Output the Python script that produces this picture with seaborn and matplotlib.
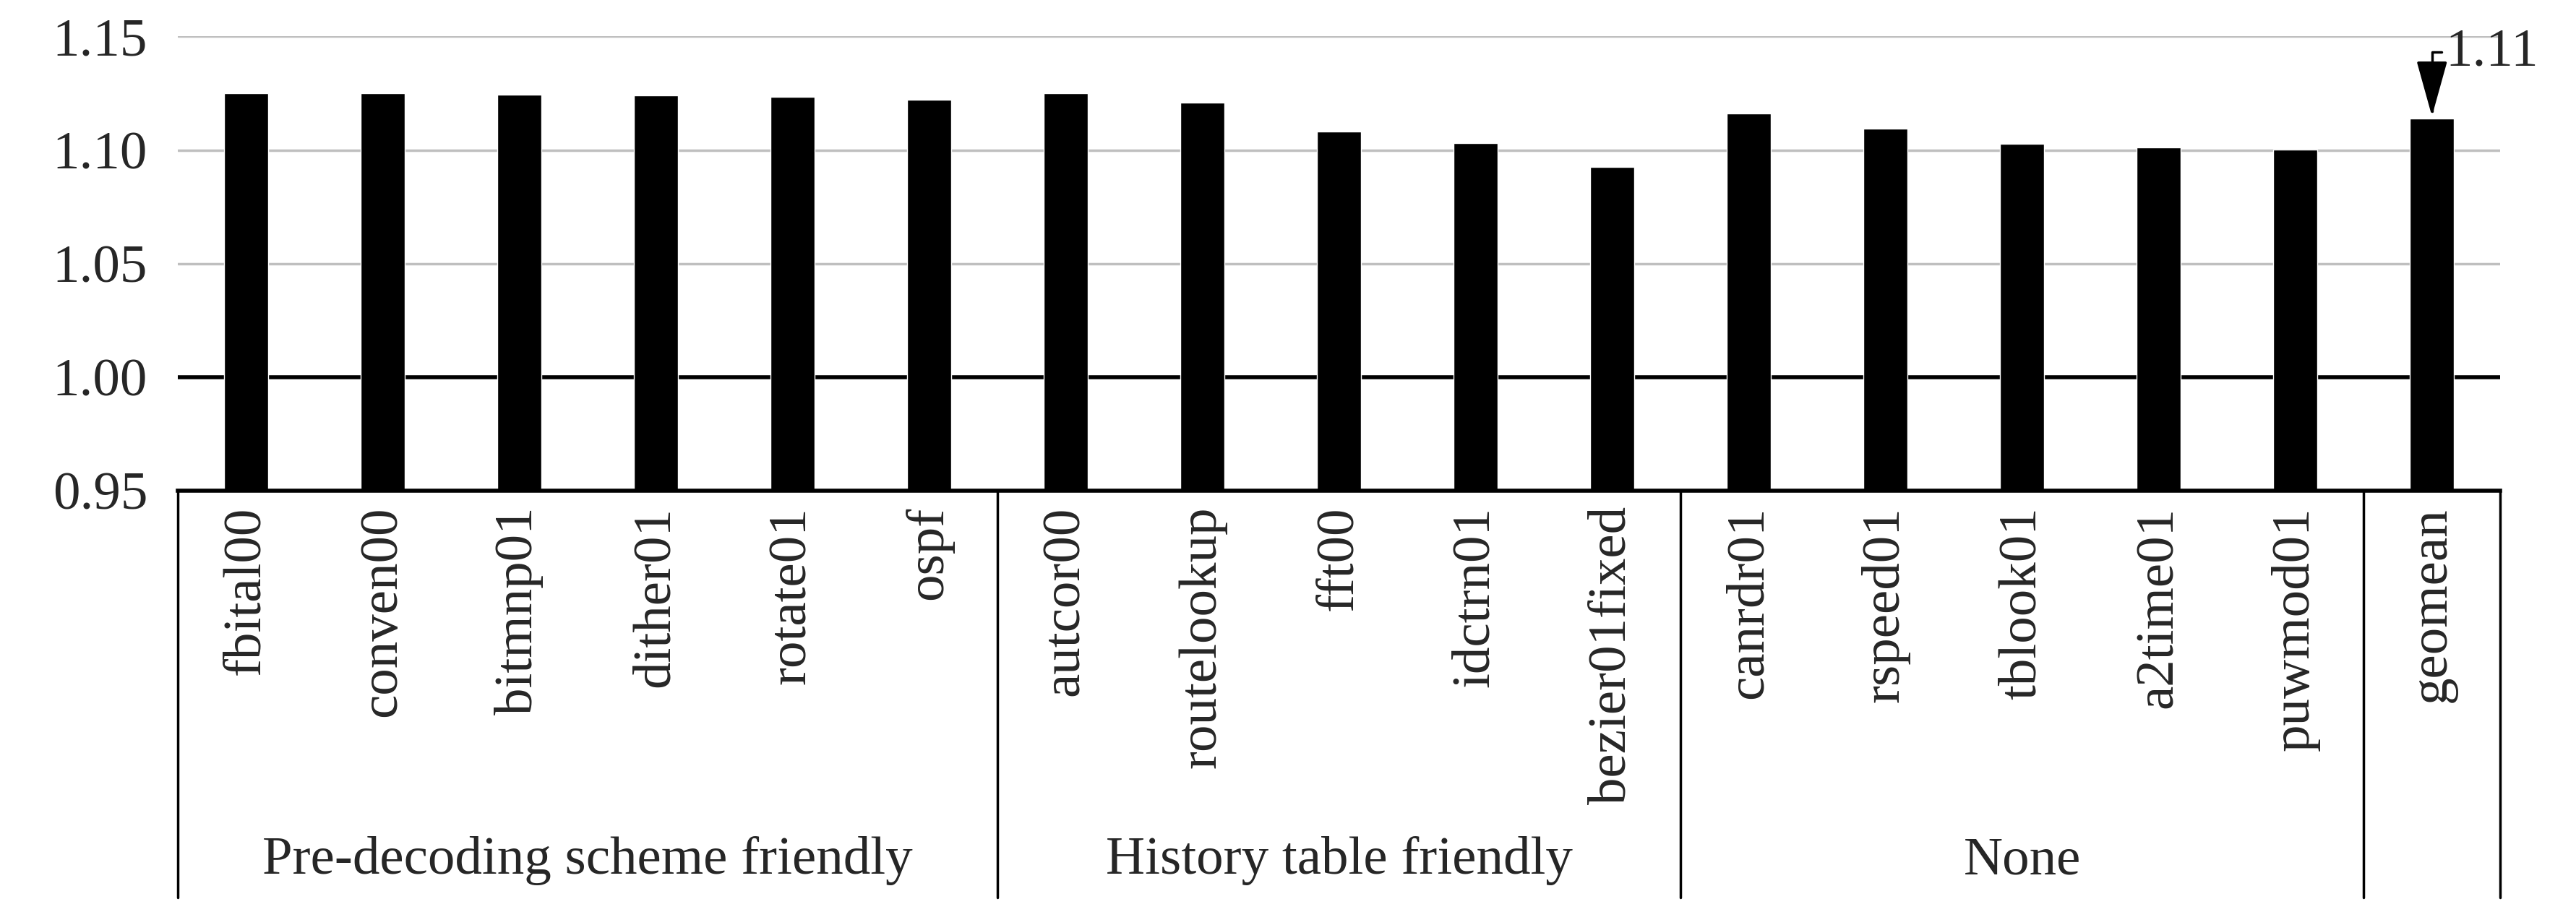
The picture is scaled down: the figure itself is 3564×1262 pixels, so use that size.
import matplotlib
matplotlib.use("Agg")
import matplotlib.pyplot as plt
import seaborn as sns
import pandas as pd

benchmarks = ["fbital00", "conven00", "bitmnp01", "dither01", "rotate01", "ospf",
              "autcor00", "routelookup", "fft00", "idctrn01", "bezier01fixed",
              "canrdr01", "rspeed01", "tblook01", "a2time01", "puwmod01", "geomean"]
speedup = [1.125, 1.125, 1.1245, 1.1242, 1.1234, 1.1223,
           1.125, 1.121, 1.108, 1.103, 1.0927,
           1.1162, 1.1094, 1.1027, 1.101, 1.1002, 1.114]
groups = ["Pre-decoding scheme friendly", "History table friendly", "None", ""]
group_sizes = [6, 5, 5, 1]
yticks = [0.95, 1.00, 1.05, 1.10, 1.15]

sns.set_theme(style="white")
plt.rcParams["font.family"] = ["Liberation Serif", "DejaVu Serif"]
FS = 54

df = pd.DataFrame({"bench": benchmarks, "val": speedup})
fig = plt.figure(figsize=(35.64, 12.62), dpi=100)
ax = fig.add_axes([0.069, 0.462, 0.9016, 0.498])
for y in yticks[2:]:
    ax.axhline(y, color="#bfbfbf", lw=2.5, zorder=0)
ax.axhline(1.00, color="black", lw=4, zorder=0)
sns.barplot(data=df, x="bench", y="val", color="black", width=0.32, ax=ax,
            saturation=1, zorder=2)
ax.set_ylim(0.95, 1.15)
ax.set_xlim(-0.5, len(benchmarks) - 0.5)
ax.set_yticks(yticks)
ax.set_yticklabels([f"{v:.2f}" for v in yticks], fontsize=FS)
ax.tick_params(axis="y", length=0, pad=30)
ax.set_xticks([])
ax.set_xlabel("")
ax.set_ylabel("")
for s in ["left", "right", "top"]:
    ax.spines[s].set_visible(False)
ax.spines["bottom"].set_color("black")
ax.spines["bottom"].set_linewidth(4)

trans = ax.get_xaxis_transform()
for i, b in enumerate(benchmarks):
    ax.text(i, -0.035, b, rotation=90, ha="center", va="top", fontsize=FS,
            transform=trans, clip_on=False)
bottom_y = (0.016 - 0.462) / 0.498
start = 0
edges = [-0.5]
for g, n in zip(groups, group_sizes):
    end = start + n
    edges.append(end - 0.5)
    ax.text((start + end - 1) / 2, (0.056 - 0.462) / 0.498, g, ha="center", va="center",
            fontsize=FS, transform=trans, clip_on=False)
    start = end
for e in edges:
    ax.plot([e, e], [0, bottom_y], color="black", lw=2.5, transform=trans, clip_on=False)

ax.annotate("1.11", xy=(16, speedup[-1]), xytext=(16.1, 1.143),
            fontsize=FS, ha="left", va="center",
            arrowprops=dict(arrowstyle="-|>,head_width=0.25,head_length=0.9", color="black", lw=2.5,
                            connectionstyle="angle,angleA=0,angleB=90,rad=0",
                            shrinkA=2, shrinkB=2),
            annotation_clip=False)

fig.savefig("out.png", dpi=100, facecolor="white")
